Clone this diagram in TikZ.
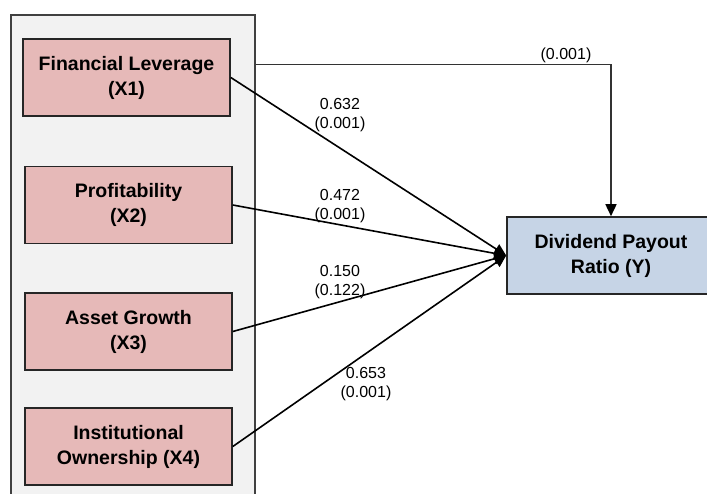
\documentclass[tikz,border=0pt]{standalone}
\usepackage{fontspec}
\setmainfont{Liberation Sans}
\usetikzlibrary{arrows.meta,positioning}

\definecolor{varpink}{HTML}{E6B9B8}
\definecolor{varblue}{HTML}{C6D4E6}
\definecolor{grpgray}{HTML}{F2F2F2}
\definecolor{edgegray}{HTML}{404040}

\begin{document}
\begin{tikzpicture}[x=1pt,y=-1pt,
  varbox/.style={draw=black!85, line width=1.6pt, fill=varpink,
    minimum width=207pt, minimum height=77pt, align=center, inner sep=0pt,
    font=\fontsize{19.5}{25}\selectfont\bfseries},
  depbox/.style={varbox, fill=varblue, minimum width=208pt},
  coef/.style={align=center, inner sep=0pt, font=\fontsize{16}{19}\selectfont},
  link/.style={line width=1.6pt, -{Triangle[length=12pt,width=11pt]}}]

\useasboundingbox (0,0) rectangle (707,493);
\clip (0,0) rectangle (707,493);

% Group of independent variables
\node[draw=edgegray, line width=1.5pt, fill=grpgray, anchor=north west,
  minimum width=244pt, minimum height=500pt, inner sep=0pt] (grp) at (10,14) {};

% Independent variables
\node[varbox] (fl) at (126.5,77.5) {Financial Leverage\\(X1)};
\node[varbox] (pr) at (128.5,205) {Profitability\\(X2)};
\node[varbox] (ag) at (128.5,331.5) {Asset Growth\\(X3)};
\node[varbox] (io) at (128.5,446.5) {Institutional\\Ownership (X4)};

% Dependent variable
\node[depbox] (dpr) at (611,255.5) {Dividend Payout\\Ratio (Y)};

% Paths
\coordinate (c0) at (grp.east |- 0,64.3);
\draw[link, black!80, -{Triangle[length=12pt,width=11pt,black]}] (c0) -| (dpr.north);
\draw[link] (fl.east) -- (dpr.west);
\draw[link] (pr.east) -- (dpr.west);
\draw[link] (ag.east) -- (dpr.west);
\draw[link] (io.east) -- (dpr.west);

% Coefficients (p-values)
\node[coef] (w0) at (566,55) {(0.001)};
\node[coef] (w1) at (340,115.5) {0.632\\(0.001)};
\node[coef] (w2) at (340,206.5) {0.472\\(0.001)};
\node[coef] (w3) at (340,282) {0.150\\(0.122)};
\node[coef] (w4) at (366,384) {0.653\\(0.001)};
\end{tikzpicture}
\end{document}
